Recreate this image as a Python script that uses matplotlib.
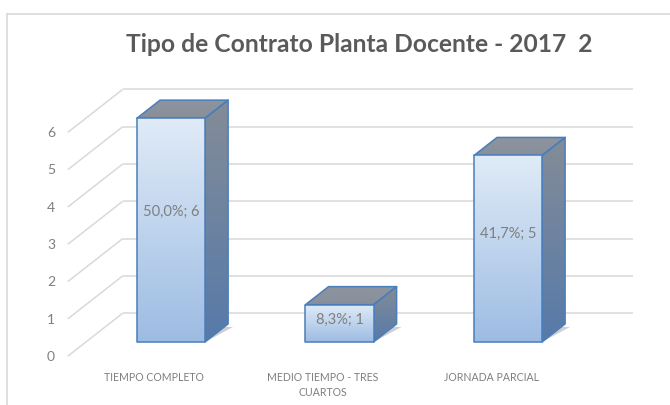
import numpy as np
import matplotlib

matplotlib.use("Agg")
import matplotlib.pyplot as plt
from matplotlib.colors import LinearSegmentedColormap
from matplotlib.lines import Line2D
from matplotlib.patches import Polygon

# data
categories = ["TIEMPO COMPLETO", "MEDIO TIEMPO - TRES\nCUARTOS", "JORNADA PARCIAL"]
counts = [6, 1, 5]
point_labels = ["50,0%; 6", "8,3%; 1", "41,7%; 5"]
y_ticks = [0, 1, 2, 3, 4, 5, 6]
title = "Tipo de Contrato Planta Docente - 2017  2"

W, H = 670, 405
FONT = ["Lato", "DejaVu Sans"]

# fake 3d: depth vector in data units, bar front plane is depth 0
DX, DY = 0.326, 1.153
WALL_FRONT, WALL_BACK = -0.33, 0.67
WALL_X = -0.505
WALL_RIGHT = 2.742
BAR_W = 0.404
BAR_D = 0.42

EDGE = "#4a7ebb"
GRID = "#d9d9d9"
TEXT = "#7f7f7f"


def shade(ax, verts, c_top, c_bottom, zorder, lw=1.1):
    poly = Polygon(verts, closed=True, facecolor="none", edgecolor=EDGE,
                   linewidth=lw, joinstyle="round", zorder=zorder + 0.1)
    ax.add_patch(poly)
    xs = [p[0] for p in verts]
    ys = [p[1] for p in verts]
    cmap = LinearSegmentedColormap.from_list("g", [c_bottom, c_top])
    grad = np.linspace(0, 1, 256).reshape(-1, 1)
    im = ax.imshow(grad, extent=[min(xs), max(xs), min(ys), max(ys)], origin="lower",
                   cmap=cmap, aspect="auto", interpolation="bilinear", zorder=zorder)
    im.set_clip_path(poly)


fig = plt.figure(figsize=(W / 100, H / 100), dpi=100)
fig.patch.set_facecolor("white")

# axes placed so that category i sits at x=171+168.5*i px and value v at y=342-37.3*v px
x_lim = (-1.0, 2.9)
y_lim = (-1.2, 7.5)
px_l, px_r = 171 - 168.5, 171 + 2.9 * 168.5
px_b, px_t = 342 + 1.2 * 37.3, 342 - 7.5 * 37.3
ax = fig.add_axes([px_l / W, 1 - px_b / H, (px_r - px_l) / W, (px_b - px_t) / H])
ax.set_axis_off()

# walls
for v in y_ticks:
    xf, yf = WALL_X + WALL_FRONT * DX, v + WALL_FRONT * DY
    xb, yb = WALL_X + WALL_BACK * DX, v + WALL_BACK * DY
    ax.plot([xf, xb], [yf, yb], color=GRID, lw=1.1, zorder=1, solid_capstyle="butt")
    ax.plot([xb, WALL_RIGHT], [yb, yb], color=GRID, lw=1.1, zorder=1, solid_capstyle="butt")
    ax.text(xf - 0.1, yf - 0.02, str(v), ha="center", va="center",
            fontsize=10, color=TEXT, family=FONT)

# bars
bx, by = BAR_D * DX, BAR_D * DY
for i, (v, lab) in enumerate(zip(counts, point_labels)):
    x0, x1 = i - BAR_W / 2, i + BAR_W / 2
    # soft footprint shadow
    ax.add_patch(Polygon([(x0, 0), (x1, 0), (x1 + bx + 0.03, by - 0.08), (x0 + bx + 0.03, by - 0.08)],
                         closed=True, facecolor="#b0b0b0", edgecolor="none", alpha=0.6, zorder=2))
    shade(ax, [(x1, 0), (x1 + bx, by), (x1 + bx, v + by), (x1, v)], "#848c98", "#567aa9", 3)
    shade(ax, [(x0, v), (x1, v), (x1 + bx, v + by), (x0 + bx, v + by)], "#8e959f", "#878f9b", 3)
    shade(ax, [(x0, 0), (x1, 0), (x1, v), (x0, v)], "#e0ebf7", "#9dbce3", 4)
    ax.text(i, v * 0.58, lab, ha="center", va="center", fontsize=10.5, color=TEXT,
            family=FONT, zorder=6)
    ax.text(i - 0.1, -0.8, categories[i], ha="center", va="top", fontsize=7.6,
            color=TEXT, family=FONT, linespacing=1.45)

ax.set_xlim(*x_lim)
ax.set_ylim(*y_lim)

fig.text(359 / W, 1 - 45 / H, title, ha="center", va="center", fontsize=17.7,
         color="#5a5a5a", family=FONT, weight="bold")

# outer chart frame (only top and left edges are visible in the crop)
fig.add_artist(Line2D([7 / W, 1], [1 - 14 / H, 1 - 14 / H], color="#d9d9d9", lw=1.2))
fig.add_artist(Line2D([7 / W, 7 / W], [0, 1 - 14 / H], color="#d9d9d9", lw=1.2))

fig.savefig("out.png", dpi=100)
